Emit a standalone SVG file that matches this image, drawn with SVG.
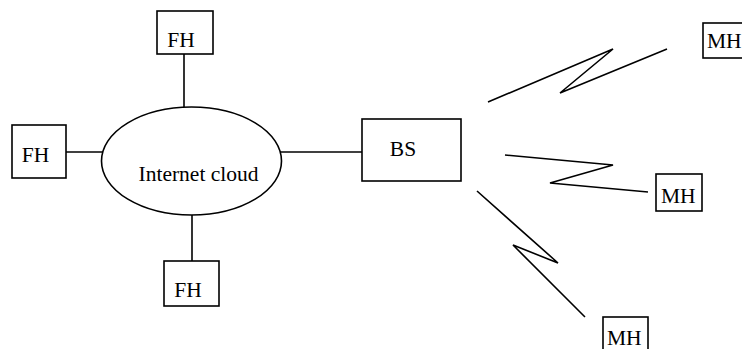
<svg xmlns="http://www.w3.org/2000/svg" width="742" height="349" viewBox="0 0 742 349">
<style>
.box{fill:#fff;stroke:#000;stroke-width:1.6}
.t{font-family:"Liberation Serif","Times New Roman",serif;font-size:21.5px;fill:#000}
.c{fill:none;stroke:#000;stroke-width:1.6}
</style>
<rect width="742" height="349" fill="#fff"/>
<g id="connectors" class="c">
<line x1="184" y1="54" x2="184" y2="107"/>
<line x1="66" y1="152" x2="103" y2="152"/>
<line x1="192" y1="214" x2="192" y2="261"/>
<line x1="280" y1="152" x2="362" y2="152"/>
<polyline points="488,102 613,49 560,93 667,49"/>
<polyline points="505,155 613,165 550,183 648,192"/>
<polyline points="477,191 558,263 513,245 585,317"/>
</g>
<g id="cloud">
<ellipse class="box" cx="191.5" cy="161" rx="90" ry="54"/>
<text class="t" x="198.5" y="181" text-anchor="middle">Internet cloud</text>
</g>
<g id="fh-top">
<rect class="box" x="157" y="11" width="56" height="43"/>
<text class="t" x="181" y="47" text-anchor="middle">FH</text>
</g>
<g id="fh-left">
<rect class="box" x="12" y="125" width="54" height="53"/>
<text class="t" x="35.5" y="162" text-anchor="middle">FH</text>
</g>
<g id="fh-bottom">
<rect class="box" x="164" y="261" width="55" height="45"/>
<text class="t" x="188" y="297" text-anchor="middle">FH</text>
</g>
<g id="bs">
<rect class="box" x="362" y="119" width="99" height="62"/>
<text class="t" x="403" y="156" text-anchor="middle">BS</text>
</g>
<g id="mh1">
<rect class="box" x="703" y="23" width="46" height="35"/>
<text class="t" x="707" y="48">MH</text>
</g>
<g id="mh2">
<rect class="box" x="656" y="174" width="46" height="37"/>
<text class="t" x="661" y="203">MH</text>
</g>
<g id="mh3">
<rect class="box" x="603" y="317" width="45" height="40"/>
<text class="t" x="607" y="345">MH</text>
</g>
</svg>
